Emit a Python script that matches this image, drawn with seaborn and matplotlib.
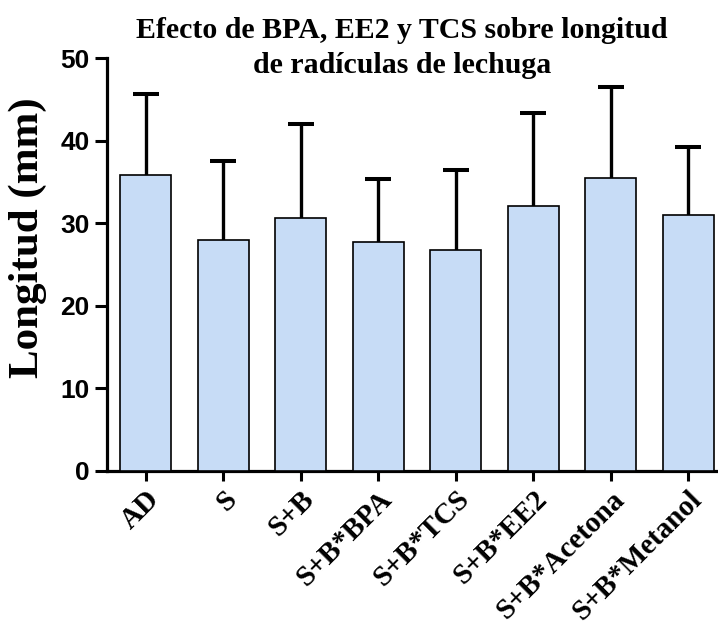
import numpy as np
import pandas as pd
import matplotlib
matplotlib.use("Agg")
import matplotlib.pyplot as plt
import matplotlib.transforms as mtransforms
import seaborn as sns

categories = ["AD", "S", "S+B", "S+B*BPA", "S+B*TCS", "S+B*EE2", "S+B*Acetona", "S+B*Metanol"]
means = [35.8, 28.0, 30.6, 27.7, 26.8, 32.1, 35.5, 31.0]
sds = [9.8, 9.5, 11.4, 7.7, 9.6, 11.3, 11.0, 8.2]
yticks = [0, 10, 20, 30, 40, 50]
title = "Efecto de BPA, EE2 y TCS sobre longitud\nde radículas de lechuga"
ylabel = "Longitud (mm)"

sns.set_theme(style="white")
plt.rcParams.update({"text.color": "black", "axes.labelcolor": "black",
                     "xtick.color": "black", "ytick.color": "black"})
W, H = 718, 634
fig = plt.figure(figsize=(W / 100, H / 100), dpi=100)
ax = fig.add_axes([107 / W, (H - 471) / H, (717 - 107) / W, 413 / H])

df = pd.DataFrame({"cat": categories, "mean": means})
sns.barplot(data=df, x="cat", y="mean", color="#c7dcf6", saturation=1,
            edgecolor="black", linewidth=1.2, width=0.66, ax=ax, zorder=3)
cont = ax.errorbar(np.arange(len(categories)), means,
                   yerr=[np.zeros(len(sds)), sds], fmt="none", ecolor="black",
                   elinewidth=2.4, capsize=9.7, capthick=2.9, zorder=2)
for cl in cont[1]:
    if np.allclose(cl.get_ydata(), means):
        cl.set_visible(False)

ax.set_xlim(-0.5, 7.37)
ax.set_ylim(0, 50)
ax.set_yticks(yticks)
ax.set_yticklabels([str(v) for v in yticks], fontfamily="Liberation Sans",
                   fontweight="bold", fontsize=19, color="black")
ax.set_xticks(np.arange(len(categories)))
ax.set_xticklabels(categories, rotation=45, ha="right", rotation_mode="anchor",
                   fontfamily="Liberation Serif", fontweight="bold", fontsize=21,
                   color="black")
shift = mtransforms.ScaledTranslation(4 / 100, 4 / 100, fig.dpi_scale_trans)
for lab in ax.get_xticklabels():
    lab.set_transform(lab.get_transform() + shift)
ax.set_xlabel("")
ax.set_ylabel("")

for s in ["top", "right"]:
    ax.spines[s].set_visible(False)
for s in ["left", "bottom"]:
    ax.spines[s].set_linewidth(2.3)
    ax.spines[s].set_color("black")
ax.tick_params(axis="y", length=8.6, width=2.2, color="black", pad=4, left=True)
ax.tick_params(axis="x", length=7.5, width=2.2, color="black", pad=3, bottom=True)

fig.text(402 / W, 1 - 48 / H, title, ha="center", va="center",
         fontfamily="Liberation Serif", fontweight="bold", fontsize=21.5,
         linespacing=1.4, color="black")
fig.text(28 / W, 1 - 238 / H, ylabel, ha="center", va="center", rotation=90,
         fontfamily="Liberation Serif", fontweight="bold", fontsize=31,
         color="black")

fig.savefig("out.png", dpi=100)
